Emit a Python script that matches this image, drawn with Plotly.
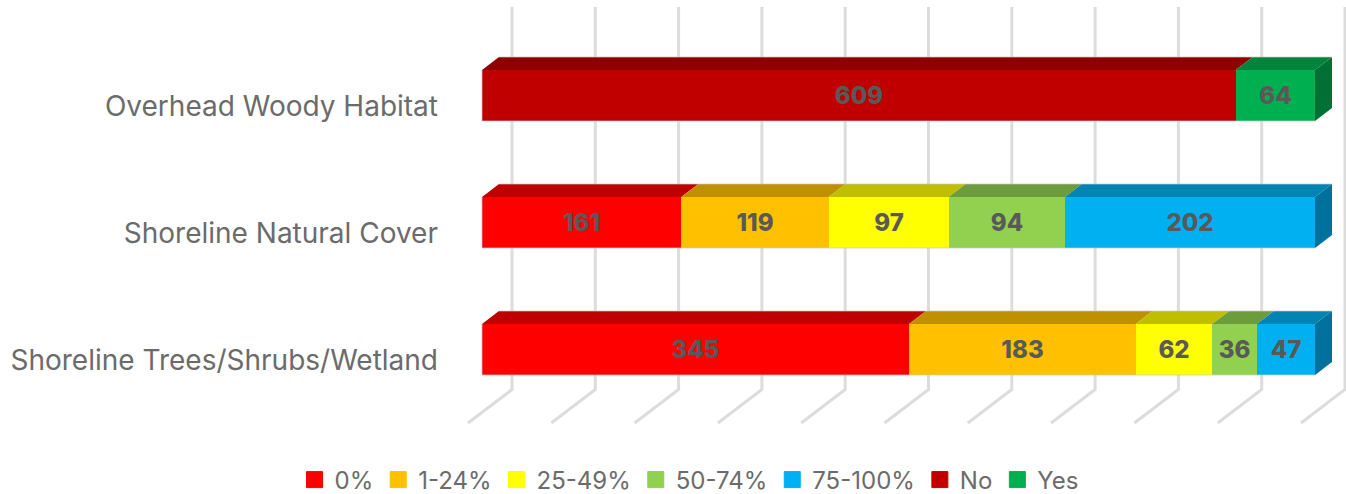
import plotly.graph_objects as go

categories = ['Shoreline Trees/Shrubs/Wetland', 'Shoreline Natural Cover', 'Overhead Woody Habitat']

series_names = ['0%', '1-24%', '25-49%', '50-74%', '75-100%', 'No', 'Yes']
pct_0 = [345, 161, None]
pct_1_24 = [183, 119, None]
pct_25_49 = [62, 97, None]
pct_50_74 = [36, 94, None]
pct_75_100 = [47, 202, None]
no_values = [None, None, 609]
yes_values = [None, None, 64]
series_values = [pct_0, pct_1_24, pct_25_49, pct_50_74, pct_75_100, no_values, yes_values]

colors = ['#FF0000', '#FFC000', '#FFFF00', '#92D050', '#00B0F0', '#C00000', '#00B050']
top_colors = ['#BF0000', '#BF9000', '#BFBF00', '#6D9C3C', '#0084B4', '#900000', '#00843C']
side_colors = ['#A60000', '#A67C00', '#A6A600', '#5F8734', '#00719C', '#7C0000', '#007034']

TOTAL = 673
WIDTH, HEIGHT = 1346, 494
LEFT_MARGIN = 442
BOTTOM_MARGIN = 50
X0_PX, X100_PX = 482, 1315
ROW_PX = 127
ROW0_PX = 349.5
BAR_WIDTH = 51 / ROW_PX


# pixel lengths to axis units, the fake 3D depth is set in pixels
def ux(px):
    return px * TOTAL / (X100_PX - X0_PX)


def uy(px):
    return px / ROW_PX


def poly(points, color):
    path = 'M' + 'L'.join('{},{}'.format(a, b) for a, b in points) + 'Z'
    return dict(type='path', path=path, xref='x', yref='y', fillcolor=color,
                line=dict(width=0), layer='above')


def edge(points):
    path = 'M' + 'L'.join('{},{}'.format(a, b) for a, b in points)
    return dict(type='path', path=path, xref='x', yref='y', layer='above',
                line=dict(color='rgba(200,200,200,0.7)', width=1))


shapes = []

# back wall and floor gridlines, every 10% of the stack
grid_top = ROW0_PX - 7
grid_bottom = ROW0_PX - 389.5
floor_front = ROW0_PX - 423
for i in range(11):
    back = TOTAL * i / 10 + ux(30)
    shapes.append(dict(type='path',
                       path='M{},{}L{},{}L{},{}'.format(back, uy(grid_top), back, uy(grid_bottom),
                                                        back - ux(44), uy(floor_front)),
                       xref='x', yref='y', layer='below',
                       line=dict(color='#DCDCDC', width=3)))

# top and end faces of the bars
dx, dy = ux(17), uy(13)
for row in range(len(categories)):
    start = 0
    last = None
    top = row + BAR_WIDTH / 2
    for k, values in enumerate(series_values):
        v = values[row]
        if v is None:
            continue
        shapes.append(poly([(start, top), (start + dx, top + dy), (start + v + dx, top + dy),
                            (start + v, top)], top_colors[k]))
        start += v
        last = k
    shapes.append(poly([(start, top), (start + dx, top + dy), (start + dx, top + dy - BAR_WIDTH),
                        (start, top - BAR_WIDTH)], side_colors[last]))
    # thin pale outline the original has along the outer edges
    shapes.append(edge([(0, top), (0, top - BAR_WIDTH), (start, top - BAR_WIDTH)]))
    shapes.append(edge([(dx, top + dy), (start + dx, top + dy)]))

fig = go.Figure()
for k, name in enumerate(series_names):
    fig.add_trace(go.Bar(y=[0, 1, 2], x=series_values[k], orientation='h', width=BAR_WIDTH,
                         marker=dict(color=colors[k], line=dict(width=0)),
                         texttemplate='%{x}', textposition='inside', insidetextanchor='middle',
                         textangle=0, constraintext='none',
                         textfont=dict(family='Inter', size=24, color='#595959', weight=800),
                         showlegend=False, name=name))
    # bar legend swatches are too small, so the legend comes from empty marker traces
    fig.add_trace(go.Scatter(x=[None], y=[None], mode='markers', name=name,
                             marker=dict(symbol='square', size=16, color=colors[k],
                                         line=dict(width=1, color=colors[k]))))

fig.update_layout(
    width=WIDTH, height=HEIGHT, barmode='stack', bargap=0,
    paper_bgcolor='white', plot_bgcolor='white',
    margin=dict(l=LEFT_MARGIN, r=0, t=0, b=BOTTOM_MARGIN),
    shapes=shapes,
    font=dict(family='Inter', color='#6B6B6B'),
    legend=dict(orientation='h', traceorder='normal', x=(689 - LEFT_MARGIN) / (WIDTH - LEFT_MARGIN),
                xanchor='center', yref='container', y=14 / HEIGHT, yanchor='middle',
                font=dict(size=24, color='#6B6B6B'), bgcolor='rgba(0,0,0,0)',
                itemclick=False, itemdoubleclick=False),
    xaxis=dict(visible=False, range=[ux(LEFT_MARGIN - X0_PX), ux(WIDTH - X0_PX)]),
    yaxis=dict(range=[uy(ROW0_PX - (HEIGHT - BOTTOM_MARGIN)), uy(ROW0_PX)], tickmode='array',
               tickvals=[0, 1, 2], ticktext=categories, showgrid=False, zeroline=False,
               showline=False, ticks='', ticklabelshift=11, ticklabelstandoff=3,
               tickfont=dict(size=28, color='#6B6B6B')),
)

# default page margin would push the whole figure 8px off
fig.write_html("out.html", config=dict(displayModeBar=False),
               post_script="document.body.style.margin='0';")
